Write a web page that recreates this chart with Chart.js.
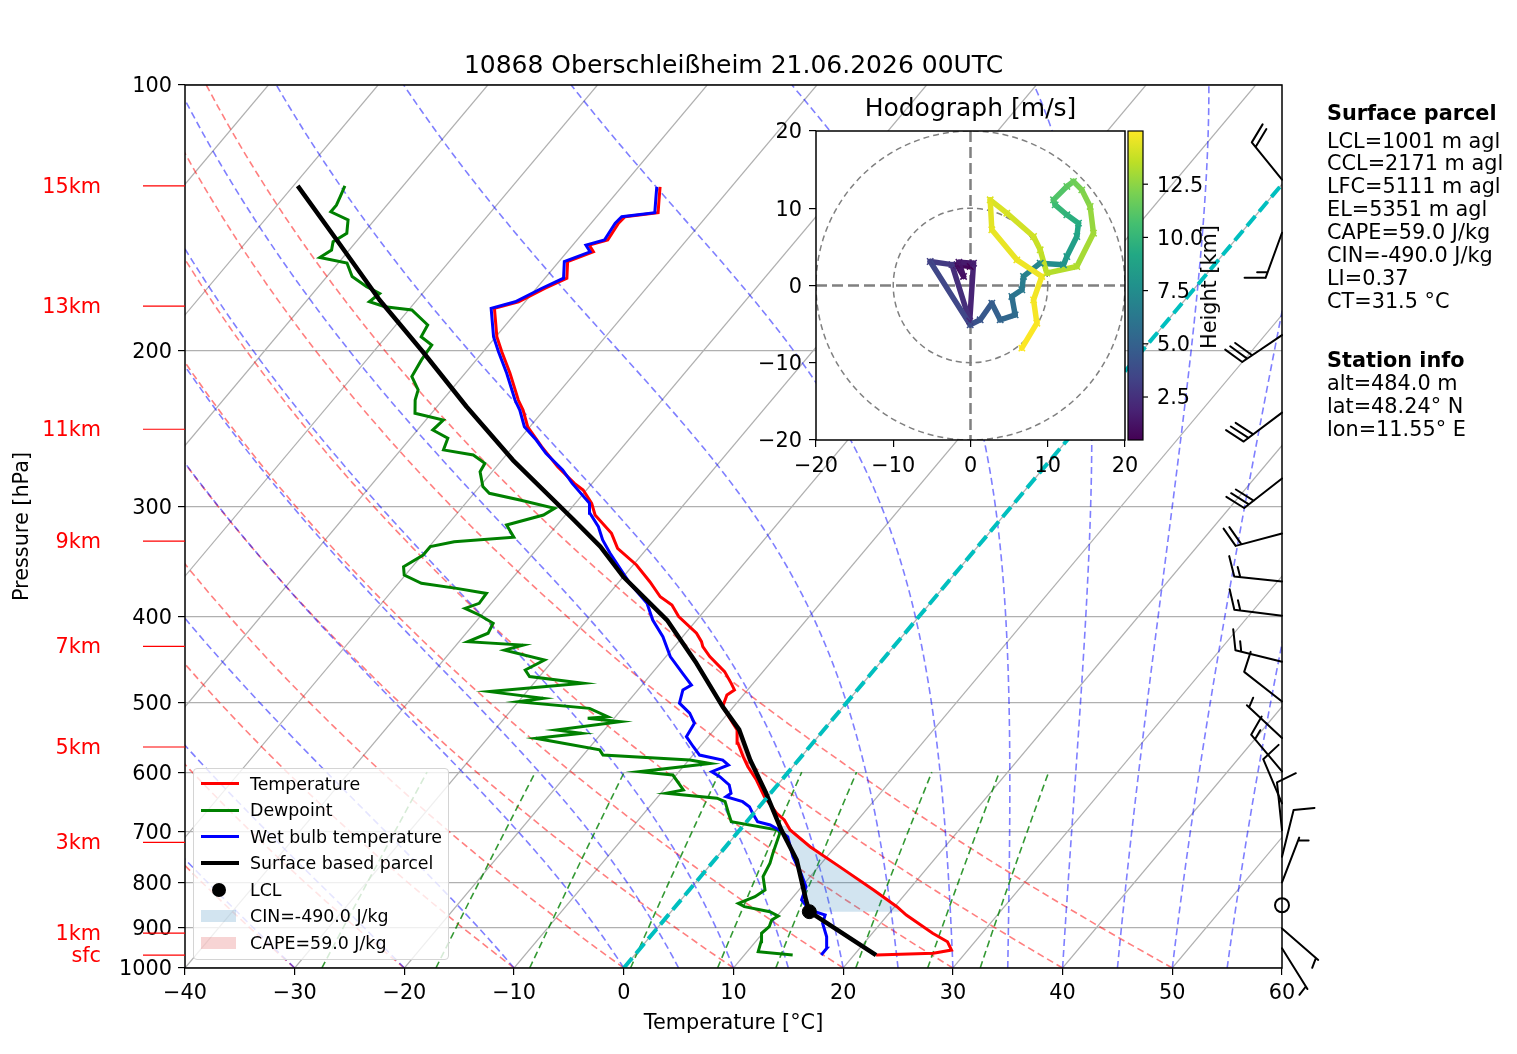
<!DOCTYPE html>
<html lang="de">
<head>
<meta charset="utf-8">
<title>10868 Oberschleißheim 21.06.2026 00UTC</title>
<script src="https://cdn.jsdelivr.net/npm/chart.js@4.4.1/dist/chart.umd.min.js"></script>
<style>
  html, body { margin: 0; background: #fff; }
  #page { position: relative; width: 1517px; height: 1054px; overflow: hidden;
          font-family: "DejaVu Sans", sans-serif; color: #000; }
  #page canvas { position: absolute; }
  .txt { position: absolute; white-space: nowrap; }
  .title { font-size: 25px; line-height: 30px; text-align: center; }
  .km { left: 0; width: 101px; text-align: right; color: red; font-size: 20.8px; line-height: 26px; }
  .info { left: 1327px; font-size: 20.8px; line-height: 22.9px; }
  #legend { position: absolute; left: 193px; top: 768px; width: 256px; height: 192px; box-sizing: border-box;
            border: 1px solid #d4d4d4; border-radius: 4px; background: rgba(255,255,255,0.8); font-size: 17.4px; }
  .row { position: absolute; left: 0; width: 250px; height: 26px; line-height: 26px; }
  .row .lab { position: absolute; left: 56px; top: 0; }
  .row .hd { position: absolute; }
</style>
</head>
<body>
<div id="page">
  <canvas id="skewt" width="1517" height="1054" style="left:0;top:0;width:1517px;height:1054px"></canvas>
  <canvas id="hodo" width="500" height="410" style="left:740px;top:80px;width:500px;height:410px"></canvas>
  <div class="txt title" id="mainTitle" style="left:185px;top:50px;width:1097px"></div>
  <div class="txt title" id="hodoTitle" style="left:816px;top:93px;width:309px"></div>
  <div class="txt" id="cbLabel" style="left:1209px;top:287px;font-size:20.8px;transform:translate(-50%,-50%) rotate(-90deg)"></div>
  <div id="legend"></div>
</div>
<script>
// sounding: pressure (hPa) and temperature (°C), surface upwards
const tempP = [966.7, 962.5, 954.3, 933.9, 913.5, 871.0, 852.2, 815.9, 767.7, 728.9,
  697.8, 679.8, 668.0, 639.7, 612.5, 591.6, 576.3, 556.5, 537.5, 528.2,
  505.8, 490.7, 484.3, 476.0, 461.7, 444.0, 432.6, 427.0, 417.7, 400.0,
  388.1, 379.8, 365.2, 349.6, 334.7, 321.9, 306.9, 297.7, 287.5, 282.6,
  270.6, 256.8, 243.8, 233.4, 227.4, 212.1, 200.5, 192.8, 179.0, 176.0,
  169.9, 165.5, 158.5, 154.5, 151.8, 149.8, 143.4, 141.0, 139.5, 134.9, 130.4];
const tempT = [22.0, 27.1, 28.5, 27.5, 25.5, 21.7, 20.2, 16.8, 11.9, 7.7,
  4.6, 3.3, 2.1, -0.3, -2.3, -4.1, -5.3, -6.8, -7.9, -8.8,
  -11.0, -11.5, -11.2, -12.0, -13.5, -16.0, -17.4, -17.9, -19.0, -21.9,
  -23.4, -25.1, -27.2, -29.7, -32.7, -34.4, -37.3, -38.5, -40.3, -41.6,
  -44.4, -47.4, -50.2, -51.9, -53.1, -55.9, -58.3, -59.9, -62.3, -60.6,
  -59.2, -58.0, -59.2, -57.6, -58.5, -57.2, -57.5, -57.4, -54.7, -55.6, -56.5];

const dewP = [966.7, 958.3, 933.9, 913.5, 898.0, 882.3, 873.3, 863.4, 852.2, 845.0,
  830.4, 815.9, 788.0, 760.8, 741.2, 703.6, 697.8, 682.9, 668.0, 648.1,
  642.3, 634.1, 628.6, 604.6, 599.4, 586.6, 581.4, 573.9, 566.2, 549.4,
  542.3, 537.5, 526.1, 521.5, 519.3, 508.1, 499.4, 495.0, 486.4, 476.0,
  467.7, 459.7, 448.0, 436.5, 430.8, 427.0, 417.7, 407.0, 398.3, 391.5,
  386.4, 376.5, 371.6, 366.7, 358.9, 351.2, 340.7, 333.2, 329.0, 325.2,
  315.0, 306.9, 301.6, 295.1, 290.0, 285.0, 274.1, 268.2, 262.4, 259.0,
  251.2, 245.9, 239.6, 235.4, 227.4, 221.5, 213.9, 204.8, 197.0, 192.8,
  187.0, 179.8, 178.3, 176.0, 172.2, 169.2, 164.8, 159.1, 156.8, 153.8,
  150.5, 147.2, 142.2, 139.2, 136.8, 133.8, 130.1];
const dewT = [14.4, 11.0, 10.5, 9.9, 10.1, 9.8, 10.1, 9.0, 6.3, 5.5,
  6.5, 6.9, 5.7, 5.3, 4.8, 3.9, 3.5, -1.4, -2.3, -3.5,
  -4.5, -9.5, -8.2, -10.3, -13.6, -7.8, -9.9, -18.2, -18.9, -25.6,
  -21.8, -24.4, -19.2, -22.4, -20.7, -23.0, -30.0, -28.0, -33.4, -25.5,
  -30.9, -31.8, -30.8, -35.2, -33.9, -39.2, -38.0, -38.3, -40.2, -42.0,
  -41.1, -41.2, -44.3, -47.9, -50.1, -50.8, -49.9, -49.9, -48.1, -43.0,
  -44.6, -42.0, -41.5, -45.3, -48.6, -49.7, -51.1, -51.3, -53.0, -56.1,
  -56.6, -58.6, -58.4, -61.5, -62.5, -63.0, -64.6, -65.0, -65.2, -66.8,
  -67.1, -69.7, -72.4, -74.2, -73.9, -75.6, -77.7, -79.2, -82.1, -81.6,
  -82.1, -81.5, -82.4, -84.6, -84.6, -84.9, -85.3];

const wetbulbP = [966.7, 950.0, 921.8, 889.9, 871.0, 863.4, 852.2, 837.5, 809.2, 781.3,
  748.2, 710.2, 697.8, 688.7, 682.9, 668.0, 656.6, 648.1, 639.7, 634.1,
  620.5, 607.2, 599.4, 589.0, 581.4, 573.9, 561.6, 547.1, 528.2, 514.6,
  501.3, 484.3, 478.1, 463.7, 444.0, 421.5, 403.6, 386.4, 366.7, 339.1,
  327.5, 316.4, 305.5, 297.7, 282.6, 272.9, 261.3, 252.4, 243.8, 233.4,
  227.4, 212.1, 200.5, 192.8, 179.0, 176.0, 169.9, 165.5, 158.5, 154.5,
  151.8, 149.8, 143.4, 141.0, 139.5, 134.9, 130.4];
const wetbulbT = [17.0, 17.0, 16.1, 14.7, 14.3, 13.1, 12.0, 11.0, 10.4, 8.9,
  6.9, 4.9, 3.6, 2.4, 1.0, -0.1, -0.9, -1.9, -3.8, -3.6,
  -4.4, -5.9, -7.0, -6.0, -6.9, -9.4, -10.6, -12.0, -12.3, -13.5,
  -15.2, -15.9, -15.5, -17.2, -19.6, -21.8, -24.0, -25.8, -28.9, -33.0,
  -34.7, -36.1, -37.9, -38.7, -41.8, -43.7, -46.5, -48.4, -50.5, -52.2,
  -53.4, -56.2, -58.6, -60.2, -62.6, -60.9, -59.5, -58.3, -59.5, -57.9,
  -58.8, -57.5, -57.8, -57.7, -55.0, -55.9, -56.8];

const parcelP = [966.7, 863.4, 837.5, 754.7, 697.8, 634.1, 581.4, 537.5, 505.8, 451.8,
  403.6, 360.5, 333.2, 309.7, 265.9, 231.4, 200.5, 175.2, 149.8, 130.1];
const parcelT = [22.0, 12.6, 11.4, 7.5, 3.8, -0.4, -4.4, -7.7, -11.0, -16.7,
  -22.7, -30.0, -34.4, -39.1, -49.0, -57.3, -65.5, -73.4, -81.9, -89.6];

const lclP = 863.4;
const lclT = 12.6;
const cinLayer = [863.4, 690];   // bottom, top (hPa)
const capeLayer = [655, 505];

// winds along the right edge: pressure, speed (kt), direction (deg)
const windP = [128, 147, 192, 235, 279, 322, 365, 399, 450, 499, 549, 599, 651, 698, 748, 800, 849, 902, 950];
const windSpd = [20, 15, 30, 30, 30, 20, 15, 15, 15, 10, 5, 15, 10, 10, 10, 5, 0, 5, 5];
const windDir = [321, 200, 236, 233, 232, 255, 276, 277, 284, 308, 313, 320, 337, 354, 14, 21, 0, 131, 148];

// hodograph: u, v (m/s) and height (km)
const hodoU = [-0.04, -1.77, -0.90, -1.50, 0.39, -0.10, -2.40, -5.22, -0.04, 1.25,
  2.76, 3.84, 5.78, 5.35, 6.65, 6.86, 9.02, 12.04, 12.47, 13.76,
  13.98, 12.47, 10.96, 10.74, 12.47, 13.33, 14.41, 15.49, 15.92, 13.76,
  9.88, 9.02, 8.16, 4.70, 2.55, 2.76, 6.00, 9.23, 8.16, 8.59, 6.65];
const hodoV = [2.46, 2.68, 1.17, 3.00, 2.89, -4.60, 2.70, 3.11, -5.09, -4.44,
  -2.29, -4.44, -3.80, -1.42, -0.56, 1.17, 2.89, 2.68, 3.75, 6.34,
  8.07, 9.15, 10.44, 11.09, 12.82, 13.46, 12.38, 10.23, 6.77, 2.46,
  1.60, 4.62, 6.34, 9.36, 11.09, 7.21, 3.32, 1.17, -1.86, -4.88, -8.11];
const hodoZ = [0.5, 0.8, 1.1, 1.4, 1.7, 2.2, 2.7, 3.2, 3.9, 4.3,
  4.7, 5.1, 5.5, 5.9, 6.3, 6.7, 7.2, 7.8, 8.3, 8.8,
  9.3, 9.8, 10.3, 10.8, 11.3, 11.7, 12.1, 12.5, 12.9, 13.2,
  13.5, 13.7, 13.9, 14.1, 14.3, 14.5, 14.6, 14.7, 14.8, 14.9, 15.0];
const hodoRings = [10, 20];
const heightRange = [0.48, 15.0];
const heightTicks = [2.5, 5.0, 7.5, 10.0, 12.5];

// axes, guide lines and labels
const pressureTicks = [100, 200, 300, 400, 500, 600, 700, 800, 900, 1000];
const isotherms = [-100, -90, -80, -70, -60, -50, -40, -30, -20, -10, 0, 10, 20, 30, 40, 50];
const dryAdiabats = [-40, -30, -20, -10, 0, 10, 20, 30, 40, 50];
const moistAdiabats = [-40, -30, -20, -10, 0, 5, 10, 15, 20, 25, 30, 35, 40, 45, 50, 55];
const mixingRatios = [0.0004, 0.001, 0.002, 0.004, 0.007, 0.01, 0.016, 0.024, 0.032];
const kmLabels = ['15km', '13km', '11km', '9km', '7km', '5km', '3km', '1km', 'sfc'];
const kmP = [130.1, 178.0, 245.4, 328.5, 432.3, 562.0, 720.6, 912.9, 967.0];
const parcelInfo = ['LCL=1001 m agl', 'CCL=2171 m agl', 'LFC=5111 m agl', 'EL=5351 m agl',
  'CAPE=59.0 J/kg', 'CIN=-490.0 J/kg', 'LI=0.37', 'CT=31.5 °C'];
const stationInfo = ['alt=484.0 m', 'lat=48.24° N', 'lon=11.55° E'];
const legendLabels = ['Temperature', 'Dewpoint', 'Wet bulb temperature', 'Surface based parcel',
  'LCL', 'CIN=-490.0 J/kg', 'CAPE=59.0 J/kg'];

const SKEW = 67.6; // x shift in °C per decade of pressure
const skewX = (t, p) => t + SKEW * Math.log10(1000 / p);
const profile = (ps, ts) => ps.map((p, i) => ({ x: skewX(ts[i], p), y: p }));
const minus = v => (v < 0 ? '\u2212' + Math.abs(v) : String(v));
const tickFont = { family: 'DejaVu Sans', size: 20.8 };

const Rd = 287.04, Cp = 1005.7, Lv = 2.501e6, EPS = 0.622;

function dryAdiabat(t0) {
  const pts = [];
  for (let i = 0; i <= 40; i++) {
    const p = 1000 * Math.pow(0.1, i / 40);
    const t = (t0 + 273.15) * Math.pow(p / 1000, Rd / Cp) - 273.15;
    pts.push({ x: skewX(t, p), y: p });
  }
  return pts;
}

function moistSlope(tK, p) {
  const es = 6.112 * Math.exp(17.67 * (tK - 273.15) / (tK - 29.65));
  const rs = EPS * es / (p - es);
  return (Rd * tK + Lv * rs) / (Cp + Lv * Lv * rs * EPS / (Rd * tK * tK));
}

function moistAdiabat(t0) {
  const pts = [];
  const steps = 90;
  const h = Math.log(0.1) / steps;
  let tK = t0 + 273.15;
  let lnp = Math.log(1000);
  for (let i = 0; i <= steps; i++) {
    const p = Math.exp(lnp);
    pts.push({ x: skewX(tK - 273.15, p), y: p });
    const pm = Math.exp(lnp + h / 2), pe = Math.exp(lnp + h);
    const k1 = moistSlope(tK, p);
    const k2 = moistSlope(tK + h * k1 / 2, pm);
    const k3 = moistSlope(tK + h * k2 / 2, pm);
    const k4 = moistSlope(tK + h * k3, pe);
    tK += h * (k1 + 2 * k2 + 2 * k3 + k4) / 6;
    lnp += h;
  }
  return pts;
}

function mixingLine(w) {
  const pts = [];
  for (let i = 0; i <= 10; i++) {
    const p = 1000 - 40 * i;
    const e = p * w / (EPS + w);
    const l = Math.log(e / 6.112);
    pts.push({ x: skewX(243.5 * l / (17.67 - l), p), y: p });
  }
  return pts;
}

// value of a profile at pressure p (linear in ln p)
function valueAt(ps, ts, p) {
  for (let i = 0; i < ps.length - 1; i++) {
    if ((ps[i] - p) * (ps[i + 1] - p) <= 0) {
      const f = Math.log(p / ps[i]) / Math.log(ps[i + 1] / ps[i]);
      return ts[i] + f * (ts[i + 1] - ts[i]);
    }
  }
  return NaN;
}

// closed shape between parcel and temperature inside a layer
function layerShape(layer) {
  const [pb, pt] = layer;
  const pts = [{ x: skewX(valueAt(parcelP, parcelT, pb), pb), y: pb }];
  parcelP.forEach((p, i) => { if (p < pb && p > pt) pts.push({ x: skewX(parcelT[i], p), y: p }); });
  pts.push({ x: skewX(valueAt(parcelP, parcelT, pt), pt), y: pt });
  pts.push({ x: skewX(valueAt(tempP, tempT, pt), pt), y: pt });
  for (let i = tempP.length - 1; i >= 0; i--) {
    if (tempP[i] < pb && tempP[i] > pt) pts.push({ x: skewX(tempT[i], tempP[i]), y: tempP[i] });
  }
  pts.push({ x: skewX(valueAt(tempP, tempT, pb), pb), y: pb });
  pts.push(pts[0]);
  return pts;
}

function line(data, color, width, order, extra) {
  return Object.assign({ data, showLine: true, borderColor: color, borderWidth: width,
    pointRadius: 0, fill: false, tension: 0, order }, extra || {});
}

const datasets = [];
datasets.push(line([{ x: 0, y: 1000 }, { x: skewX(0, 100), y: 100 }], '#00bfbf', 4, 0, { borderDash: [13, 6] }));
datasets.push({ data: [{ x: skewX(lclT, lclP), y: lclP }], pointRadius: 7, pointBackgroundColor: '#000',
  pointBorderColor: '#000', showLine: false, order: 1 });
datasets.push(line(profile(parcelP, parcelT), '#000', 4.5, 2, { borderJoinStyle: 'round' }));
datasets.push(line(profile(wetbulbP, wetbulbT), '#0000ff', 3, 3));
datasets.push(line(profile(dewP, dewT), '#008000', 3, 4));
datasets.push(line(profile(tempP, tempT), '#ff0000', 3, 5));
datasets.push(line(layerShape(cinLayer), 'transparent', 0, 6, { fill: 'shape', backgroundColor: 'rgba(31,119,180,0.2)' }));
datasets.push(line(layerShape(capeLayer), 'transparent', 0, 6, { fill: 'shape', backgroundColor: 'rgba(214,39,40,0.2)' }));
mixingRatios.forEach(w => datasets.push(line(mixingLine(w), 'rgba(0,128,0,0.8)', 1.6, 10, { borderDash: [7, 4] })));
moistAdiabats.forEach(t => datasets.push(line(moistAdiabat(t), 'rgba(0,0,255,0.5)', 1.6, 11, { borderDash: [7, 4] })));
dryAdiabats.forEach(t => datasets.push(line(dryAdiabat(t), 'rgba(255,0,0,0.5)', 1.6, 12, { borderDash: [7, 4] })));
isotherms.forEach(t => datasets.push(line([{ x: t, y: 1000 }, { x: skewX(t, 100), y: 100 }], '#b0b0b0', 1.2, 13)));

function drawBarb(ctx, x, y, spd, dir) {
  ctx.beginPath();
  if (spd < 2.5) {
    ctx.arc(x, y, 7, 0, 2 * Math.PI);
    ctx.stroke();
    return;
  }
  const r = dir * Math.PI / 180;
  const ux = Math.sin(r), uy = -Math.cos(r);
  const a = 70 * Math.PI / 180;
  const bx = ux * Math.cos(a) - uy * Math.sin(a);
  const by = ux * Math.sin(a) + uy * Math.cos(a);
  const len = 48, full = 21, gap = 6;
  const tx = x + ux * len, ty = y + uy * len;
  ctx.moveTo(x, y);
  ctx.lineTo(tx, ty);
  const n10 = Math.floor(spd / 10);
  const n5 = Math.round((spd - n10 * 10) / 5);
  let d = 0;
  for (let i = 0; i < n10; i++) {
    const px = tx - ux * d, py = ty - uy * d;
    ctx.moveTo(px, py);
    ctx.lineTo(px + bx * full, py + by * full);
    d += gap;
  }
  if (n5) {
    if (n10 === 0) d = gap * 0.5;
    const px = tx - ux * d, py = ty - uy * d;
    ctx.moveTo(px, py);
    ctx.lineTo(px + bx * full / 2, py + by * full / 2);
  }
  ctx.stroke();
}

const skewDecor = {
  id: 'skewDecor',
  afterDatasetsDraw(chart) {
    const { ctx, chartArea: a, scales: { y } } = chart;
    ctx.save();
    ctx.strokeStyle = '#000';
    ctx.lineWidth = 1.5;
    ctx.strokeRect(a.left, a.top, a.right - a.left, a.bottom - a.top);
    ctx.strokeStyle = 'red';
    ctx.lineWidth = 1.2;
    kmP.forEach(p => {
      const yy = y.getPixelForValue(p);
      ctx.beginPath();
      ctx.moveTo(a.left - 42, yy);
      ctx.lineTo(a.left, yy);
      ctx.stroke();
    });
    ctx.strokeStyle = '#000';
    ctx.lineWidth = 2;
    ctx.lineCap = 'round';
    windP.forEach((p, i) => drawBarb(ctx, a.right, y.getPixelForValue(p), windSpd[i], windDir[i]));
    ctx.restore();
  }
};

const chart = new Chart(document.getElementById('skewt'), {
  type: 'scatter',
  data: { datasets },
  options: {
    responsive: false,
    animation: false,
    events: [],
    layout: { padding: { top: 85, right: 235, bottom: 18, left: 0 } },
    plugins: { legend: { display: false }, tooltip: { enabled: false } },
    scales: {
      x: {
        type: 'linear', min: -40, max: 60,
        ticks: { stepSize: 10, color: '#000', font: tickFont, padding: 6, maxRotation: 0, callback: minus },
        grid: { drawOnChartArea: false, color: '#000', tickLength: 7, lineWidth: 1.2 },
        border: { display: false },
        title: { display: true, text: 'Temperature [°C]', color: '#000', font: tickFont, padding: { top: 4, bottom: 0 } },
        afterFit: s => { s.height = 68; }
      },
      y: {
        type: 'logarithmic', reverse: true, min: 100, max: 1000,
        afterBuildTicks: s => { s.ticks = pressureTicks.map(v => ({ value: v })); },
        ticks: { color: '#000', font: tickFont, padding: 6, labelOffset: 2, autoSkip: false, callback: v => String(v) },
        grid: { color: '#b0b0b0', lineWidth: 1.2, tickColor: '#000', tickLength: 7 },
        border: { display: false },
        title: { display: true, text: 'Pressure [hPa]', color: '#000', font: tickFont, padding: { top: 10, bottom: 0 } },
        afterFit: s => { s.width = 185; }
      }
    }
  },
  plugins: [skewDecor]
});

// viridis colour map for the hodograph heights
const VIRIDIS = ['#440154', '#482475', '#414487', '#355f8d', '#2a788e', '#21918c',
  '#22a884', '#44bf70', '#7ad151', '#bddf26', '#fde725'];
function viridis(f) {
  f = Math.min(1, Math.max(0, f));
  const s = f * 10, i = Math.min(9, Math.floor(s)), t = s - i;
  const c0 = VIRIDIS[i], c1 = VIRIDIS[i + 1];
  const ch = k => Math.round(parseInt(c0.substr(k, 2), 16) * (1 - t) + parseInt(c1.substr(k, 2), 16) * t);
  return `rgb(${ch(1)},${ch(3)},${ch(5)})`;
}
const heightFrac = z => (z - heightRange[0]) / (heightRange[1] - heightRange[0]);

const hodoDecor = {
  id: 'hodoDecor',
  beforeDatasetsDraw(chart) {
    const { ctx, chartArea: a, scales: { x, y } } = chart;
    ctx.save();
    ctx.fillStyle = '#fff';
    ctx.fillRect(a.left, a.top, a.right - a.left, a.bottom - a.top);
    ctx.beginPath();
    ctx.rect(a.left, a.top, a.right - a.left, a.bottom - a.top);
    ctx.clip();
    const cx = x.getPixelForValue(0), cy = y.getPixelForValue(0);
    ctx.strokeStyle = '#808080';
    ctx.lineWidth = 1.5;
    ctx.setLineDash([6, 4]);
    hodoRings.forEach(r => {
      ctx.beginPath();
      ctx.arc(cx, cy, x.getPixelForValue(r) - cx, 0, 2 * Math.PI);
      ctx.stroke();
    });
    ctx.lineWidth = 2.5;
    ctx.setLineDash([11, 5]);
    ctx.beginPath();
    ctx.moveTo(a.left, cy); ctx.lineTo(a.right, cy);
    ctx.moveTo(cx, a.top); ctx.lineTo(cx, a.bottom);
    ctx.stroke();
    ctx.restore();
  },
  afterDraw(chart) {
    const { ctx, chartArea: a, scales: { cb } } = chart;
    ctx.save();
    ctx.strokeStyle = '#000';
    ctx.lineWidth = 1.5;
    ctx.strokeRect(a.left, a.top, a.right - a.left, a.bottom - a.top);
    const x0 = a.right + 3, w = 15;
    const y0 = cb.getPixelForValue(heightRange[1]), y1 = cb.getPixelForValue(heightRange[0]);
    const g = ctx.createLinearGradient(0, y1, 0, y0);
    VIRIDIS.forEach((c, i) => g.addColorStop(i / 10, c));
    ctx.fillStyle = g;
    ctx.fillRect(x0, y0, w, y1 - y0);
    ctx.lineWidth = 1.2;
    ctx.strokeRect(x0, y0, w, y1 - y0);
    heightTicks.forEach(v => {
      const yy = cb.getPixelForValue(v);
      ctx.beginPath();
      ctx.moveTo(x0 + w, yy);
      ctx.lineTo(x0 + w + 5, yy);
      ctx.stroke();
    });
    ctx.restore();
  }
};

const hodoAxis = (afterFit, offset) => ({
  type: 'linear', min: -20, max: 20,
  ticks: { stepSize: 10, color: '#000', font: tickFont, padding: 7, labelOffset: offset, maxRotation: 0, callback: minus },
  grid: { drawOnChartArea: false, color: '#000', tickLength: 7, lineWidth: 1.2 },
  border: { display: false },
  afterFit
});

new Chart(document.getElementById('hodo'), {
  type: 'scatter',
  data: {
    datasets: [{
      data: hodoU.map((u, i) => ({ x: u, y: hodoV[i] })),
      showLine: true,
      borderWidth: 5.5,
      borderCapStyle: 'round',
      borderJoinStyle: 'round',
      segment: { borderColor: c => viridis(heightFrac((hodoZ[c.p0DataIndex] + hodoZ[c.p1DataIndex]) / 2)) },
      pointStyle: 'crossRot',
      pointRadius: 4.5,
      pointBorderWidth: 1.5,
      pointBorderColor: hodoZ.map(z => viridis(heightFrac(z))),
      tension: 0
    }]
  },
  options: {
    responsive: false,
    animation: false,
    events: [],
    layout: { padding: { top: 51, right: 0, bottom: 0, left: 0 } },
    plugins: { legend: { display: false }, tooltip: { enabled: false } },
    scales: {
      x: hodoAxis(s => { s.height = 50; }, 0),
      y: hodoAxis(s => { s.width = 76; }, 2),
      cb: {
        type: 'linear', axis: 'y', position: 'right', min: heightRange[0], max: heightRange[1],
        afterBuildTicks: s => { s.ticks = heightTicks.map(v => ({ value: v })); },
        ticks: { color: '#000', font: tickFont, padding: 32, labelOffset: 2, autoSkip: false, callback: v => v.toFixed(1) },
        grid: { drawOnChartArea: false, drawTicks: false },
        border: { display: false },
        afterFit: s => { s.width = 115; }
      }
    }
  },
  plugins: [hodoDecor]
});

// text around the diagrams
document.getElementById('mainTitle').textContent = '10868 Oberschleißheim 21.06.2026 00UTC';
document.getElementById('hodoTitle').textContent = 'Hodograph [m/s]';
document.getElementById('cbLabel').textContent = 'Height [km]';

const page = document.getElementById('page');
function addText(cls, style, html) {
  const d = document.createElement('div');
  d.className = 'txt ' + cls;
  d.style.cssText = style;
  d.innerHTML = html;
  page.appendChild(d);
}
kmLabels.forEach((t, i) => {
  addText('km', `top:${chart.scales.y.getPixelForValue(kmP[i]) - 13}px`, t);
});
addText('info', 'top:101px;line-height:25px', '<b>Surface parcel</b>');
addText('info', 'top:129.5px', parcelInfo.join('<br>'));
addText('info', 'top:348.5px;line-height:23px', '<b>Station info</b><br>' + stationInfo.join('<br>'));

// legend
const legendHandles = [
  { type: 'line', color: '#ff0000', w: 3 },
  { type: 'line', color: '#008000', w: 3 },
  { type: 'line', color: '#0000ff', w: 3 },
  { type: 'line', color: '#000', w: 4.5 },
  { type: 'dot', color: '#000' },
  { type: 'patch', color: 'rgba(31,119,180,0.2)' },
  { type: 'patch', color: 'rgba(214,39,40,0.2)' }
];
const legend = document.getElementById('legend');
legendLabels.forEach((label, i) => {
  const row = document.createElement('div');
  row.className = 'row';
  row.style.top = (1.5 + i * 26.55) + 'px';
  const h = legendHandles[i];
  const hd = document.createElement('div');
  hd.className = 'hd';
  if (h.type === 'line') {
    hd.style.cssText = `left:7px;width:38px;top:${13 - h.w / 2}px;height:${h.w}px;background:${h.color}`;
  } else if (h.type === 'dot') {
    hd.style.cssText = 'left:18px;width:14px;height:14px;top:6px;border-radius:50%;background:#000';
  } else {
    hd.style.cssText = `left:7px;width:35px;top:7px;height:12px;background:${h.color}`;
  }
  const lab = document.createElement('span');
  lab.className = 'lab';
  lab.textContent = label;
  row.appendChild(hd);
  row.appendChild(lab);
  legend.appendChild(row);
});
</script>
</body>
</html>
